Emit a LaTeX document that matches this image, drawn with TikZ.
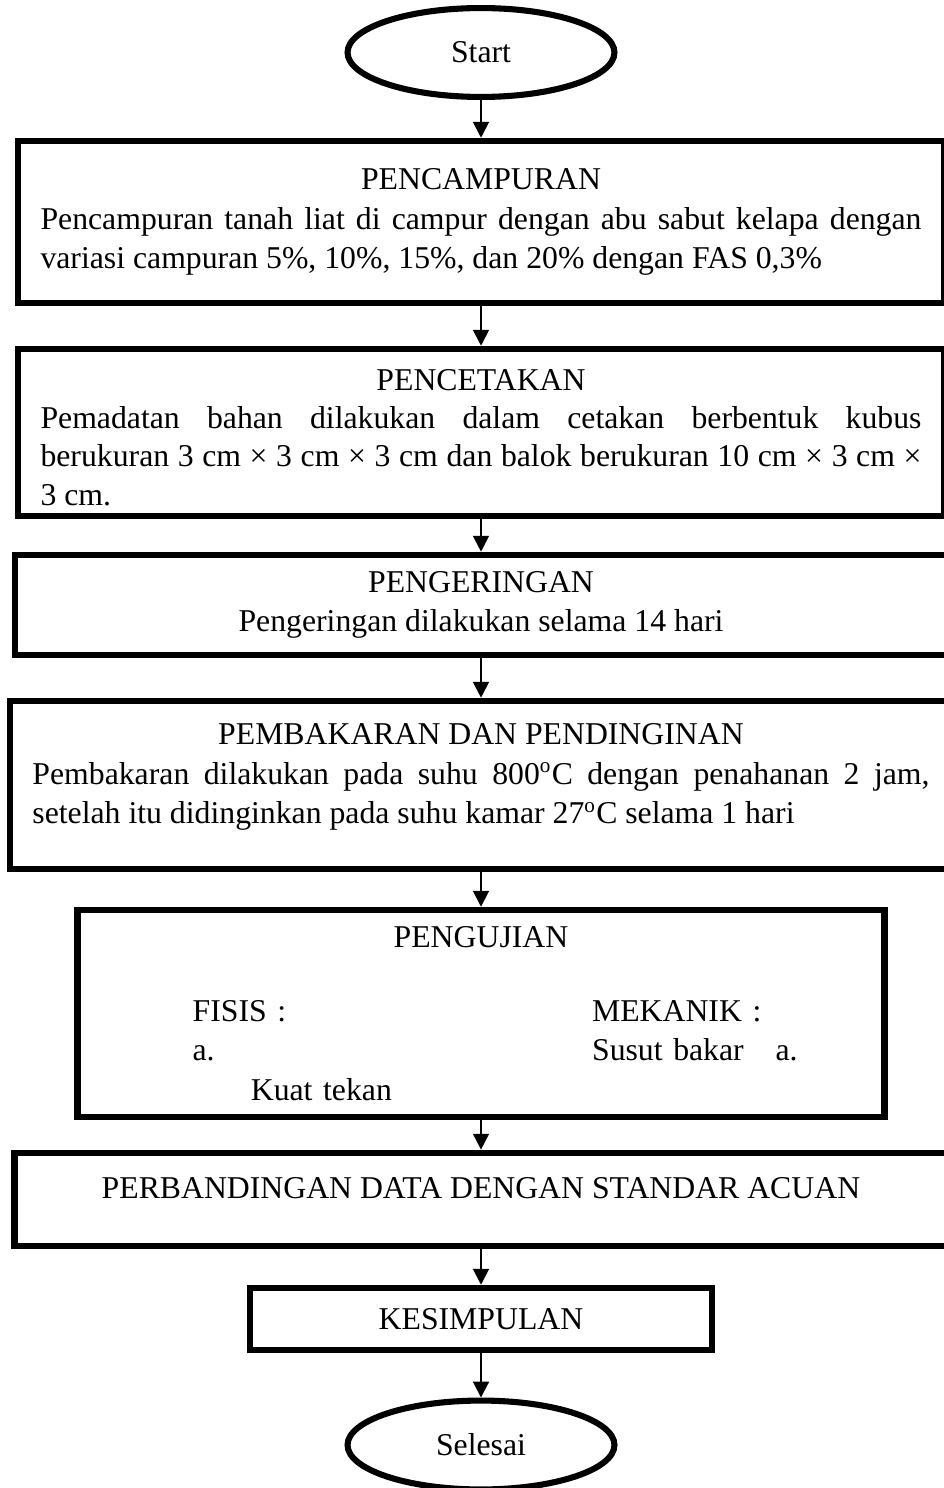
\documentclass[tikz,border=0pt]{standalone}
\usepackage{fontspec}
\setmainfont{Liberation Serif}
\usepackage{tikz}
\usetikzlibrary{arrows.meta,shapes,positioning}
\tikzstyle{terminal} = [ellipse, draw=black, line width=2.3pt, minimum width=100.9pt, minimum height=33.6pt, inner sep=0pt]
\tikzstyle{arrow} = [line width=0.75pt,-{Triangle[length=6pt,width=6pt]}]

\begin{document}
\begin{tikzpicture}[
    x=0.378pt, y=0.378pt,
    every node/.style={font=\fontsize{12}{15}\selectfont},
    procbox/.style={rectangle, draw=black, line width=2.5pt, inner xsep=8.5pt, inner ysep=2pt, align=justify, execute at begin node={\parindent=0pt}},
    plainbox/.style={rectangle, draw=black, line width=2.5pt, inner sep=2pt, align=center}
]
\useasboundingbox (0,0) rectangle (943,-1488);

% Start
\node[terminal] (start) at (481,-52.5) {Start};

% Process steps
\node[procbox, text width=333pt, minimum height=61.2pt] (mix) at (481,-222)
    {{\centering PENCAMPURAN\par}Pencampuran tanah liat di campur dengan abu sabut kelapa dengan\linebreak variasi campuran 5\%, 10\%, 15\%, dan 20\% dengan FAS 0,3\%};
\node[procbox, text width=333pt, minimum height=63.1pt, font=\fontsize{12}{14.4}\selectfont] (press) at (481,-432.5)
    {{\centering\rule{0pt}{11.8pt}PENCETAKAN\par}Pemadatan bahan dilakukan dalam cetakan berbentuk kubus\linebreak berukuran 3 cm × 3 cm × 3 cm dan balok berukuran 10 cm × 3 cm ×\linebreak 3 cm.};
\node[plainbox, minimum width=352.3pt, minimum height=37.8pt] (dry) at (481,-605)
    {PENGERINGAN\\Pengeringan dilakukan selama 14 hari};
\node[procbox, text width=339.1pt, minimum height=63.5pt] (burn) at (481,-785)
    {{\centering PEMBAKARAN DAN PENDINGINAN\par}Pembakaran dilakukan pada suhu 800\textsuperscript{o}C dengan penahanan 2 jam,\linebreak setelah itu didinginkan pada suhu kamar 27\textsuperscript{o}C selama 1 hari\rule[-8.7pt]{0pt}{1pt}};

% Testing
\node[procbox, align=left, text width=288pt, minimum height=78.2pt] (test) at (481,-1013.5)
    {{\centering PENGUJIAN\par}\vspace{13pt}
     \hspace*{35pt}\makebox[151pt][l]{FISIS :}MEKANIK :\par
     \hspace*{35pt}\makebox[151pt][l]{a.}Susut bakar\hspace{12pt}a.\par
     \hspace*{57pt}Kuat tekan};

% Closing steps
\node[plainbox, minimum width=352.7pt, minimum height=35.2pt, text depth=8.7pt] (compare) at (481,-1199.5)
    {PERBANDINGAN DATA DENGAN STANDAR ACUAN};
\node[plainbox, minimum width=174.6pt, minimum height=23.4pt] (concl) at (481,-1319) {KESIMPULAN};
\node[terminal] (finish) at (481,-1445) {Selesai};

% Arrows
\draw[arrow] (start) -- (mix);
\draw[arrow] (mix) -- (press);
\draw[arrow] (press) -- (dry);
\draw[arrow] (dry) -- (burn);
\draw[arrow] (burn) -- (test);
\draw[arrow] (test) -- (compare);
\draw[arrow] (compare) -- (concl);
\draw[arrow] (concl) -- (finish);

\end{tikzpicture}
\end{document}
